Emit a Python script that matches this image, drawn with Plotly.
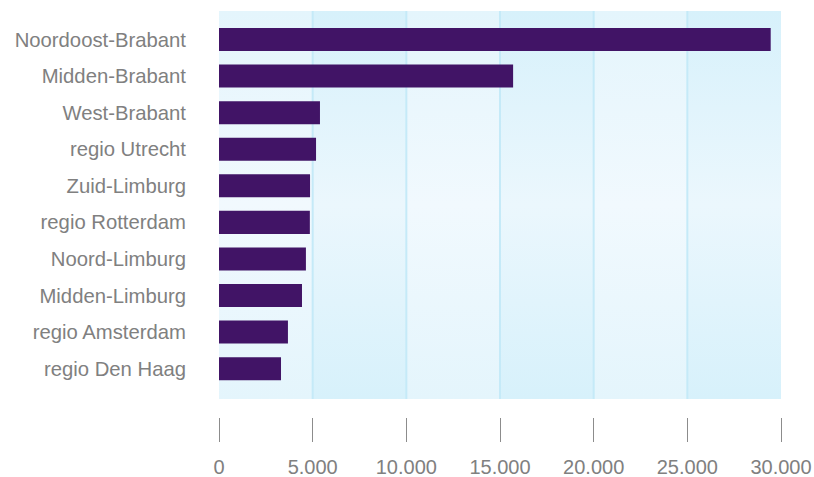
import plotly.graph_objects as go

regions = ["Noordoost-Brabant", "Midden-Brabant", "West-Brabant", "regio Utrecht",
           "Zuid-Limburg", "regio Rotterdam", "Noord-Limburg", "Midden-Limburg",
           "regio Amsterdam", "regio Den Haag"]
values = [29450, 15700, 5390, 5180, 4860, 4850, 4640, 4430, 3680, 3310]
tick_vals = [0, 5000, 10000, 15000, 20000, 25000, 30000]
tick_text = ["0", "5.000", "10.000", "15.000", "20.000", "25.000", "30.000"]

BAR = "#411466"
TXT = "#808080"
LIGHT_EDGE, LIGHT_MID = "#e4f5fc", "#f1f9fe"
DARK_EDGE, DARK_MID = "#d7f1fb", "#ebf7fd"
GRID = "#c5eaf8"

positions = list(range(len(regions)))
y_lo, y_hi = -0.78, len(regions) - 1 + 0.83

fig = go.Figure()
# background bands with a soft vertical gradient (base subplot)
for i in range(len(tick_vals) - 1):
    edge, mid = (LIGHT_EDGE, LIGHT_MID) if i % 2 == 0 else (DARK_EDGE, DARK_MID)
    x0, x1 = tick_vals[i], tick_vals[i + 1]
    fig.add_trace(go.Scatter(
        x=[x0, x1, x1, x0, x0], y=[y_lo, y_lo, y_hi, y_hi, y_lo],
        mode="none", fill="toself",
        fillgradient=dict(type="vertical",
                          colorscale=[[0, edge], [0.5, mid], [1, edge]]),
        hoverinfo="skip", showlegend=False, xaxis="x", yaxis="y",
    ))
# grid lines
for v in tick_vals[1:-1]:
    fig.add_trace(go.Scatter(
        x=[v, v], y=[y_lo, y_hi], mode="lines",
        line=dict(color=GRID, width=2), hoverinfo="skip", showlegend=False,
        xaxis="x", yaxis="y",
    ))
# bars on an overlaid axis so they sit above the bands
fig.add_trace(go.Bar(
    x=values, y=positions, orientation="h",
    marker=dict(color=BAR, line=dict(width=0)),
    width=0.63, customdata=regions,
    hovertemplate="%{customdata}: %{x}<extra></extra>", showlegend=False,
    xaxis="x", yaxis="y2",
))

W, H = 814, 477
left, right, top, plot_bottom, axis_y = 219, 781, 11, 399, 417
dom = [(axis_y - plot_bottom) / (axis_y - top), 1]
fig.update_layout(
    width=W, height=H,
    margin=dict(l=left, r=W - right, t=top, b=H - axis_y, autoexpand=False),
    paper_bgcolor="white", plot_bgcolor="white",
    showlegend=False,
    font=dict(family="Liberation Sans, Arial, Helvetica, sans-serif", color=TXT, size=20),
    xaxis=dict(
        range=[0, 30000], tickvals=tick_vals, ticktext=tick_text,
        anchor="free", position=0, automargin=False,
        showgrid=False, zeroline=False, showline=False,
        ticks="outside", ticklen=24, tickwidth=1, tickcolor="#8c8c8c",
        tickfont=dict(size=20, color=TXT),
        ticklabelstandoff=8,
    ),
    yaxis=dict(
        domain=dom, automargin=False,
        range=[y_hi, y_lo], tickvals=positions, ticktext=regions,
        showgrid=False, zeroline=False, showline=False,
        ticks="", ticklabelstandoff=32,
        tickfont=dict(size=20.3, color=TXT),
    ),
    yaxis2=dict(
        overlaying="y", domain=dom, automargin=False,
        range=[y_hi, y_lo], showticklabels=False,
        showgrid=False, zeroline=False, showline=False, ticks="",
    ),
)

fig.write_html(
    "out.html",
    config={"displayModeBar": False},
    post_script="document.body.style.margin='0';document.body.style.overflow='hidden';",
)
